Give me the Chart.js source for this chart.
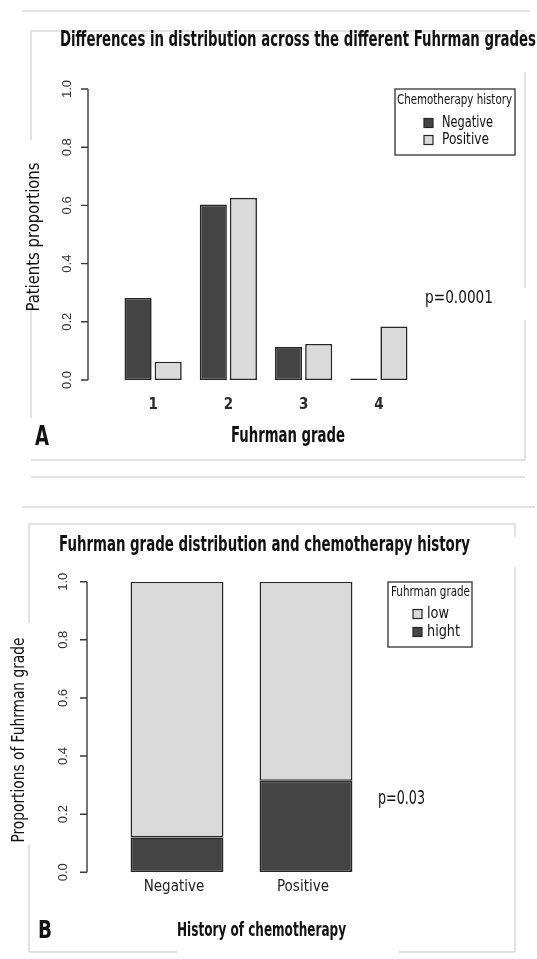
<!DOCTYPE html>
<html><head><meta charset="utf-8">
<script src="https://cdn.jsdelivr.net/npm/chart.js@4.4.1/dist/chart.umd.min.js"></script>
<style>
html,body{margin:0;padding:0;background:#fff;width:537px;height:959px;overflow:hidden}
#ca{position:absolute;left:0;top:0}
#cb{position:absolute;left:0;top:510px}
</style></head><body>
<canvas id="ca" width="537" height="510"></canvas>
<canvas id="cb" width="537" height="449"></canvas>
<script>
// ---- data ----
const gradeCategories = ['1', '2', '3', '4'];
const negativeProportions = [0.282, 0.603, 0.113, 0];
const positiveProportions = [0.063, 0.626, 0.124, 0.184];
const historyCategories = ['Negative', 'Positive'];
const highGradeProportions = [0.12, 0.315];
const lowGradeProportions = [0.88, 0.685];
const yTickValues = [0, 0.2, 0.4, 0.6, 0.8, 1.0];
const yTickLabels = ['0.0', '0.2', '0.4', '0.6', '0.8', '1.0'];

// ---- styling ----
const DARK = '#444444', LIGHT = '#dadada', EDGE = '#262626', FRAME = '#d9d9d9';
const NARROW = '"Liberation Sans Narrow","DejaVu Sans Condensed","Liberation Sans",sans-serif';
const SANS = '"Liberation Sans",Arial,sans-serif';

function txt(ctx, s, x, y, font, o = {}) {
  ctx.save();
  ctx.font = font;
  ctx.fillStyle = o.color || '#111';
  ctx.textBaseline = 'middle';
  ctx.translate(x, y);
  if (o.rot) ctx.rotate(o.rot);
  const w = ctx.measureText(s).width;
  let sx = 1;
  if (o.fit) sx = o.fit / w;
  ctx.scale(sx, 1);
  let x0 = 0;
  if (o.align === 'center') x0 = -w / 2;
  else if (o.align === 'right') x0 = -w;
  ctx.textAlign = 'left';
  ctx.fillText(s, x0, 0);
  ctx.restore();
}
function segs(ctx, list, oy) {
  ctx.save();
  ctx.strokeStyle = FRAME; ctx.lineWidth = 1.5;
  ctx.beginPath();
  list.forEach(([x1, y1, x2, y2]) => { ctx.moveTo(x1, y1 - oy); ctx.lineTo(x2, y2 - oy); });
  ctx.stroke();
  ctx.restore();
}
function yAxis(chart, x, labelX) {
  const ctx = chart.ctx, y = chart.scales.y;
  ctx.save();
  ctx.strokeStyle = '#3a3a3a'; ctx.lineWidth = 1.4;
  ctx.beginPath();
  ctx.moveTo(x, y.getPixelForValue(yTickValues[0]));
  ctx.lineTo(x, y.getPixelForValue(yTickValues[yTickValues.length - 1]));
  yTickValues.forEach(v => { const p = y.getPixelForValue(v); ctx.moveTo(x, p); ctx.lineTo(x - 7, p); });
  ctx.stroke();
  ctx.restore();
  yTickValues.forEach((v, i) => {
    txt(ctx, yTickLabels[i], labelX, y.getPixelForValue(v), '13px ' + SANS, { rot: -Math.PI / 2, align: 'center', color: '#333' });
  });
}
function legendBox(ctx, box, title, items) {
  ctx.save();
  ctx.fillStyle = '#fff'; ctx.fillRect(box.x, box.y, box.w, box.h);
  ctx.strokeStyle = '#404040'; ctx.lineWidth = 1.4;
  ctx.strokeRect(box.x, box.y, box.w, box.h);
  ctx.restore();
  txt(ctx, title.text, title.x, title.y, '14px ' + NARROW, { fit: title.w });
  items.forEach(it => {
    ctx.save();
    ctx.fillStyle = it.color; ctx.fillRect(it.sx, it.y - 4.5, 9, 9);
    ctx.strokeStyle = EDGE; ctx.lineWidth = 1.2; ctx.strokeRect(it.sx, it.y - 4.5, 9, 9);
    ctx.restore();
    txt(ctx, it.label, it.tx, it.y, '16px ' + NARROW, { fit: it.w });
  });
}

// ---- Chart A ----
const decorA = {
  id: 'decorA',
  beforeDraw(chart) {
    const ctx = chart.ctx;
    ctx.save(); ctx.fillStyle = '#fff'; ctx.fillRect(0, 0, chart.width, chart.height); ctx.restore();
    segs(ctx, [
      [22, 11, 530, 11],
      [31, 31, 525, 31],
      [31, 31, 31, 140], [31, 307, 31, 418],
      [525, 72, 525, 288], [525, 320, 525, 460],
      [31, 460, 525, 460],
      [31, 477, 525, 477],
      [22, 507, 535, 507]
    ], 0);
  },
  afterDraw(chart) {
    const ctx = chart.ctx, xs = chart.scales.x;
    txt(ctx, 'Differences in distribution across the different Fuhrman grades', 60, 41, 'bold 21px ' + NARROW, { fit: 476 });
    yAxis(chart, 88, 67);
    txt(ctx, 'Patients proportions', 34, 237, '18px ' + NARROW, { rot: -Math.PI / 2, align: 'center', fit: 149 });
    gradeCategories.forEach((c, i) => {
      txt(ctx, c, xs.getPixelForValue(i), 405, 'bold 15px ' + NARROW, { align: 'center', color: '#2a2a2a' });
    });
    txt(ctx, 'Fuhrman grade', 231, 436, 'bold 22px ' + NARROW, { fit: 114 });
    txt(ctx, 'A', 35, 438, 'bold 27px ' + NARROW, { fit: 14 });
    txt(ctx, 'p=0.0001', 425, 298, '18px ' + NARROW, { fit: 68 });
    const ds = chart.data.datasets;
    legendBox(ctx, { x: 395, y: 89, w: 120, h: 66 },
      { text: 'Chemotherapy history', x: 397, y: 100, w: 115 },
      [
        { label: ds[0].label, color: ds[0].backgroundColor, sx: 424, tx: 442, y: 123, w: 51 },
        { label: ds[1].label, color: ds[1].backgroundColor, sx: 424, tx: 442, y: 140, w: 47 }
      ]);
  }
};

new Chart(document.getElementById('ca'), {
  type: 'bar',
  data: {
    labels: gradeCategories,
    datasets: [
      { label: 'Negative', data: negativeProportions, backgroundColor: DARK, borderColor: EDGE, borderWidth: 1.6, borderSkipped: false, minBarLength: 1.5 },
      { label: 'Positive', data: positiveProportions, backgroundColor: LIGHT, borderColor: EDGE, borderWidth: 1.6, borderSkipped: false }
    ]
  },
  options: {
    responsive: false, animation: false, devicePixelRatio: 1,
    layout: { padding: { left: 115.5, right: 120.5, top: 89, bottom: 130 } },
    plugins: { legend: { display: false }, tooltip: { enabled: false }, title: { display: false } },
    scales: {
      x: { display: false, categoryPercentage: 50 / 75, barPercentage: 1 },
      y: { display: false, min: 0, max: 1 }
    }
  },
  plugins: [decorA]
});

// ---- Chart B ----
const OFFB = 510;
const decorB = {
  id: 'decorB',
  beforeDraw(chart) {
    const ctx = chart.ctx;
    ctx.save(); ctx.fillStyle = '#fff'; ctx.fillRect(0, 0, chart.width, chart.height); ctx.restore();
    segs(ctx, [
      [29, 524, 515, 524],
      [29, 524, 29, 623], [29, 845, 29, 952],
      [515, 524, 515, 537], [515, 567, 515, 952],
      [29, 952, 177, 952], [399, 952, 515, 952]
    ], OFFB);
  },
  afterDraw(chart) {
    const ctx = chart.ctx, xs = chart.scales.x;
    txt(ctx, 'Fuhrman grade distribution and chemotherapy history', 59, 546 - OFFB, 'bold 21px ' + NARROW, { fit: 411 });
    yAxis(chart, 87, 63);
    txt(ctx, 'Proportions of Fuhrman grade', 20, 740 - OFFB, '17px ' + NARROW, { rot: -Math.PI / 2, align: 'center', fit: 205 });
    historyCategories.forEach((c, i) => {
      txt(ctx, c, xs.getPixelForValue(i) - 3, 887 - OFFB, '15px ' + NARROW, { align: 'center', color: '#222' });
    });
    txt(ctx, 'History of chemotherapy', 177, 931 - OFFB, 'bold 19px ' + NARROW, { fit: 169 });
    txt(ctx, 'B', 38, 931 - OFFB, 'bold 25px ' + NARROW, { fit: 14 });
    txt(ctx, 'p=0.03', 378, 799 - OFFB, '19px ' + NARROW, { fit: 47 });
    const ds = chart.data.datasets;
    legendBox(ctx, { x: 388, y: 582 - OFFB, w: 84, h: 65 },
      { text: 'Fuhrman grade', x: 391, y: 592 - OFFB, w: 79 },
      [
        { label: ds[1].label, color: ds[1].backgroundColor, sx: 413, tx: 427, y: 614 - OFFB, w: 22 },
        { label: ds[0].label, color: ds[0].backgroundColor, sx: 413, tx: 427, y: 632 - OFFB, w: 33 }
      ]);
  }
};

new Chart(document.getElementById('cb'), {
  type: 'bar',
  data: {
    labels: historyCategories,
    datasets: [
      { label: 'hight', data: highGradeProportions, backgroundColor: DARK, borderColor: EDGE, borderWidth: 1.6, borderSkipped: false },
      { label: 'low', data: lowGradeProportions, backgroundColor: LIGHT, borderColor: EDGE, borderWidth: 1.6, borderSkipped: false }
    ]
  },
  options: {
    responsive: false, animation: false, devicePixelRatio: 1,
    layout: { padding: { left: 112.5, right: 166.5, top: 71.7, bottom: 86.7 } },
    plugins: { legend: { display: false }, tooltip: { enabled: false }, title: { display: false } },
    scales: {
      x: { display: false, stacked: true, categoryPercentage: 1 / 1.2, barPercentage: 1 },
      y: { display: false, stacked: true, min: 0, max: 1 }
    }
  },
  plugins: [decorB]
});
</script>
</body></html>
